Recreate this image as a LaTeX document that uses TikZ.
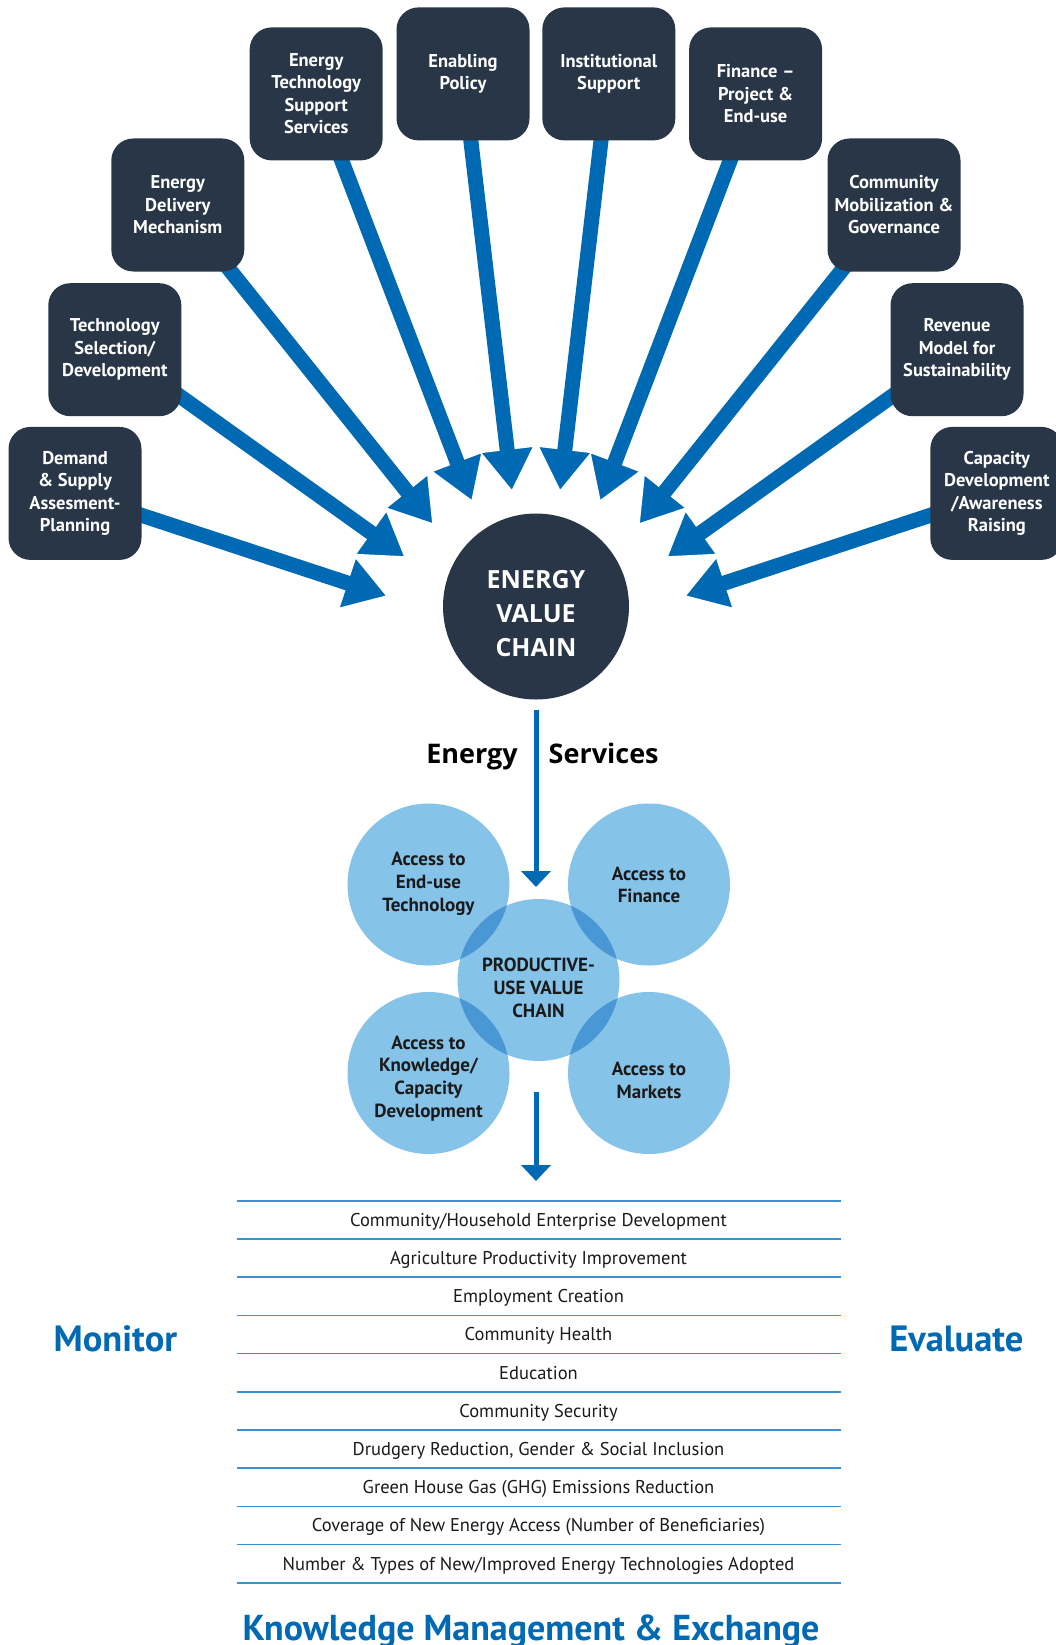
\documentclass[tikz,border=0pt]{standalone}
\usepackage{fontspec}
\setmainfont{PT Sans}
\newfontfamily\osans{Open Sans}
\usetikzlibrary{calc,arrows.meta}
\pgfdeclarelayer{bgw}
\pgfdeclarelayer{back}
\pgfsetlayers{bgw,back,main}
\definecolor{navy}{RGB}{40,54,72}
\definecolor{eblue}{RGB}{0,105,180}
\definecolor{lblue}{RGB}{134,195,233}
\definecolor{mblue}{RGB}{74,151,213}
\definecolor{rulec}{RGB}{60,145,208}
\definecolor{ink}{RGB}{26,26,26}
\newcommand\evcarrow[2]{%
  \coordinate (#2m) at ($(#2)!42pt!(#1.center)$);
  \filldraw[headtri] (#2) -- ($(#2m)!27pt!90:(#2)$) -- ($(#2m)!27pt!-90:(#2)$) -- cycle;
  \draw[shaft] (#1.center) -- ($(#2)!37pt!(#1.center)$);
}
\begin{document}
\begin{tikzpicture}[x=1pt,y=-1pt,
  boxnode/.style={fill=navy,rounded corners=22pt,minimum width=133pt,minimum height=133pt,inner sep=0pt,text=white,align=center,font=\bfseries\fontsize{18.5}{22.5}\selectfont},
  shaft/.style={draw=eblue,line width=15pt},
  headtri/.style={fill=eblue,draw=white,line width=1.5pt,line join=miter},
  venn/.style={circle,fill=lblue,minimum size=162pt,inner sep=0pt},
  venntext/.style={text=ink,align=center,font=\bfseries\fontsize{19}{22.8}\selectfont},
  flow/.style={draw=eblue,line width=5pt,-{Triangle[width=29pt,length=16pt]}},
  rulel/.style={draw=rulec,line width=1.6pt},
  rowtext/.style={anchor=base,text=ink,font=\fontsize{18.5}{22}\selectfont},
  bigblue/.style={text=eblue,inner sep=0pt,font=\bfseries\fontsize{36.5}{40}\selectfont}
]
\useasboundingbox (0,0) rectangle (1055,1645);
\begin{pgfonlayer}{bgw}
\fill[white] (0,0) rectangle (1055,1645);
\end{pgfonlayer}

% boxes
\node[boxnode] (b1) at (75,493.4) {Demand\\\& Supply\\Assesment-\\Planning};
\node[boxnode] (b2) at (114.8,349.7) {Technology\\Selection/\\Development};
\node[boxnode] (b3) at (177.8,205) {Energy\\Delivery\\Mechanism};
\node[boxnode] (b4) at (316.2,93.9) {Energy\\Technology\\Support\\Services};
\node[boxnode] (b5) at (463,73.9) {Enabling\\Policy};
\node[boxnode] (b6) at (608.8,73.9) {Institutional\\Support};
\node[boxnode] (b7) at (755.6,93.9) {Finance –\\Project \&\\End-use};
\node[boxnode] (b8) at (894,205) {Community\\Mobilization \&\\Governance};
\node[boxnode] (b9) at (957,349.7) {Revenue\\Model for\\Sustainability};
\node[boxnode] (b10) at (996.8,493.4) {Capacity\\Development\\/Awareness\\Raising};

% central circle
\node[circle,fill=navy,minimum size=186pt,inner sep=0pt] (evc) at (536,606.5) {};
\node[text=white,align=center,inner sep=0pt,
  font=\osans\bfseries\fontsize{25}{34}\selectfont] (evct) at (536,614) {ENERGY\\VALUE\\CHAIN};

% arrow tips
\coordinate (t1) at (387,596);
\coordinate (t2) at (405,557);
\coordinate (t3) at (433,524);
\coordinate (t4) at (472,501);
\coordinate (t5) at (512,491);
\coordinate (t6) at (560,491);
\coordinate (t7) at (600,501);
\coordinate (t8) at (639,524);
\coordinate (t9) at (667,557);
\coordinate (t10) at (685,596);

\begin{pgfonlayer}{back}
  \evcarrow{b1}{t1}
  \evcarrow{b2}{t2}
  \evcarrow{b3}{t3}
  \evcarrow{b4}{t4}
  \evcarrow{b5}{t5}
  \evcarrow{b10}{t10}
  \evcarrow{b9}{t9}
  \evcarrow{b8}{t8}
  \evcarrow{b7}{t7}
  \evcarrow{b6}{t6}
\end{pgfonlayer}

% Energy | Services
\node[anchor=base east,inner sep=0pt,font=\osans\bfseries\fontsize{27}{30}\selectfont] (en) at (518,763) {Energy};
\node[anchor=base west,inner sep=0pt,font=\osans\bfseries\fontsize{27}{30}\selectfont] (sv) at (548.5,763) {Services};

% venn
\node[venn] (v1) at (428.5,884.5) {};
\node[venn] (v2) at (649,884.5) {};
\node[venn] (v4) at (428.5,1073) {};
\node[venn] (v5) at (649,1073) {};
\node[venn] (pv) at (538.5,980) {};
\begin{scope}
  \clip (pv.center) circle (81);
  \foreach \v in {v1,v2,v4,v5} \fill[mblue] (\v.center) circle (81);
\end{scope}
\node[venntext] (v1t) at (428.5,884) {Access to\\End-use\\Technology};
\node[venntext] (v2t) at (649,885) {Access to\\Finance};
\node[venntext] (v4t) at (428.5,1078.5) {Access to\\Knowledge/\\Capacity\\Development};
\node[venntext] (v5t) at (649,1080.5) {Access to\\Markets};
\node[venntext] (pvt) at (538.5,988) {PRODUCTIVE-\\USE VALUE\\CHAIN};

% flows
\coordinate (tip1) at (536,887);
\coordinate (tip2) at (536,1181);
\draw[flow,shorten <=10pt] (evc.south) -- (tip1);
\draw[flow] ($(pv.south -| evc.center)+(0,31)$) -- (tip2);

% table
\foreach \i in {0,...,10}
  \draw[rulel] (237,{1200.7+38.2*\i}) -- (841,{1200.7+38.2*\i});
\foreach \t [count=\i] in {{Community/Household Enterprise Development},
  {Agriculture Productivity Improvement},
  {Employment Creation},
  {Community Health},
  {Education},
  {Community Security},
  {Drudgery Reduction, Gender \& Social Inclusion},
  {Green House Gas (GHG) Emissions Reduction},
  {Coverage of New Energy Access (Number of Beneficiaries)},
  {Number \& Types of New/Improved Energy Technologies Adopted}}
  \node[rowtext] (r\i) at (538.5,{1188.1+38.2*\i}) {\t};

\node[bigblue,anchor=base] (mon) at (115.4,1351) {Monitor};
\node[bigblue,anchor=base] (eva) at (956.4,1351) {Evaluate};
\node[bigblue,anchor=base,font=\bfseries\fontsize{36}{40}\selectfont] (kme) at (531,1640) {Knowledge Management \& Exchange};
\end{tikzpicture}
\end{document}
